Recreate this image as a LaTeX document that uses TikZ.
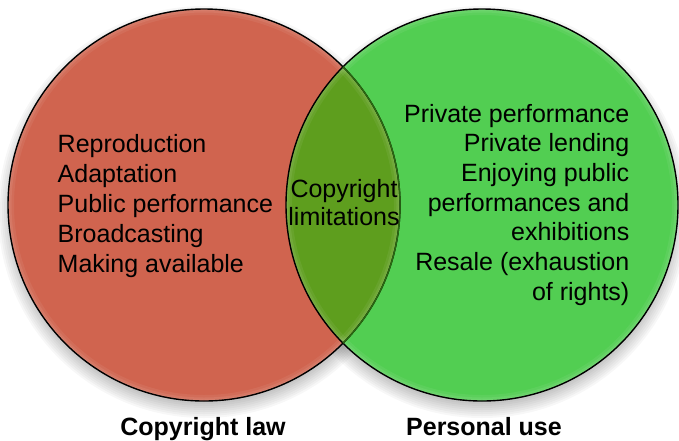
\documentclass[tikz,border=0pt]{standalone}
\usepackage{fontspec}
\setmainfont{Liberation Sans}
\definecolor{lawred}{HTML}{D0644F}
\definecolor{usegreen}{HTML}{52CE52}
\definecolor{lensgreen}{HTML}{5E9E1E}
\definecolor{lensedge}{HTML}{2A6A10}
\tikzset{
  txt/.style={font=\fontsize{25}{30}\selectfont, inner sep=0pt, text=black},
  caption/.style={txt, font=\fontsize{25}{30}\selectfont\bfseries},
  rim/.style={line width=1.4pt, draw=black},
}
\newcommand{\Rad}{196pt}
\begin{document}
\begin{tikzpicture}[x=1pt,y=-1pt]
\useasboundingbox (0,0) rectangle (679,440);
\coordinate (cl) at (204,205);
\coordinate (cr) at (482,205);

% soft drop shadow under both circles
\foreach \k in {0,...,9}{
  \pgfmathsetlengthmacro\rr{206pt-2pt*\k}
  \fill[black,opacity=0.03] ([yshift=-7pt]cl) circle (\rr);
  \fill[black,opacity=0.03] ([yshift=-7pt]cr) circle (\rr);
}

% the two sets
\fill[lawred] (cl) circle (\Rad);
\fill[usegreen] (cr) circle (\Rad);
\begin{scope}
  \clip (cl) circle (\Rad);
  \fill[lensgreen] (cr) circle (\Rad);
\end{scope}

% light glow along the inside of each rim
\begin{scope}
  \clip (cl) circle (\Rad);
  \foreach \w/\o in {12/0.06,7/0.07,3/0.08}
    \draw[white,opacity=\o,line width=\w pt] (cl) circle (\Rad);
\end{scope}
\begin{scope}
  \clip (cr) circle (\Rad);
  \foreach \w/\o in {12/0.06,7/0.07,3/0.08}
    \draw[white,opacity=\o,line width=\w pt] (cr) circle (\Rad);
\end{scope}

% outlines
\draw[rim] (cl) circle (\Rad);
\draw[rim] (cr) circle (\Rad);
\begin{scope}
  \clip (cr) circle (\Rad);
  \draw[rim,draw=lensedge] (cl) circle (\Rad);
\end{scope}

% rights covered by copyright law
\foreach \name/\t [count=\i from 0] in
  {l1/Reproduction, l2/Adaptation, l3/Public performance,
   l4/Broadcasting, l5/Making available}
  \node[txt, anchor=base west] (\name) at (57.5, {152+30*\i}) {\t};

% uses that count as personal use
\foreach \name/\t [count=\i from 0] in
  {r1/Private performance, r2/Private lending, r3/Enjoying public,
   r4/performances and, r5/exhibitions, r6/Resale (exhaustion,
   r7/of rights)}
  \node[txt, anchor=base east] (\name) at (629.5, {122+29.7*\i}) {\t};

% overlap
\node[txt, anchor=base] (m1) at (344,197) {Copyright};
\node[txt, anchor=base] (m2) at (344,225) {limitations};

% set captions
\node[caption, anchor=base] (capl) at (203,435) {Copyright law};
\node[caption, anchor=base] (capr) at (484,435) {Personal use};
\end{tikzpicture}
\end{document}
